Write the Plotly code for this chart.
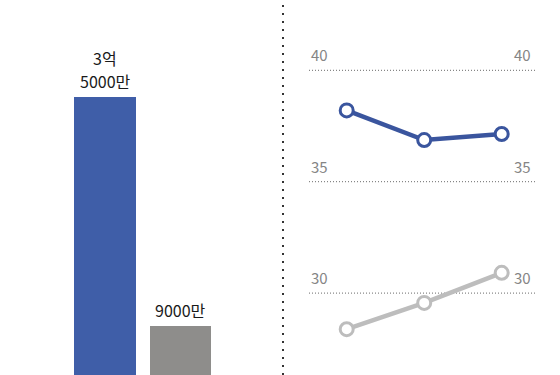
import plotly.graph_objects as go

# Data
bar_categories = [0, 1]
bar_values = [35000, 9000]          # 단위: 만원
bar_labels = [["3억", "5000만"], ["9000만"]]
bar_colors = ["#3f5ea8", "#8e8d8b"]

line_x = [1, 2, 3]
blue_values = [38.2, 36.87, 37.14]
gray_values = [28.38, 29.56, 30.91]
grid_values = [40, 35, 30]
grid_labels = ["40", "35", "30"]

W, H = 560, 375

fig = go.Figure()

# Bars (left panel)
fig.add_trace(go.Bar(
    x=bar_categories, y=bar_values,
    marker=dict(color=bar_colors, line=dict(width=0)),
    width=0.82,
    xaxis="x", yaxis="y", hoverinfo="skip",
))

# Lines (right panel)
fig.add_trace(go.Scatter(
    x=line_x, y=blue_values, mode="lines+markers",
    line=dict(color="#3a559e", width=4.5),
    marker=dict(size=13, color="white", line=dict(color="#3a559e", width=3)),
    xaxis="x2", yaxis="y2", hoverinfo="skip",
))
fig.add_trace(go.Scatter(
    x=line_x, y=gray_values, mode="lines+markers",
    line=dict(color="#bdbdbd", width=4.5),
    marker=dict(size=13, color="white", line=dict(color="#bdbdbd", width=3)),
    xaxis="x2", yaxis="y2", hoverinfo="skip",
))

shapes = []
annotations = []

# bar value labels, one annotation per line, stacked above each bar
for xc, val, lines in zip(bar_categories, bar_values, bar_labels):
    n = len(lines)
    for i, ln in enumerate(lines):
        annotations.append(dict(xref="x", yref="y", x=xc, y=val, text=ln,
                                showarrow=False, xanchor="center", yanchor="bottom",
                                borderpad=0,
                                yshift=3 + (n - 1 - i) * 23,
                                font=dict(family="Noto Sans CJK KR", size=16, color="#1a1a1a")))

for v, lab in zip(grid_values, grid_labels):
    shapes.append(dict(type="line", xref="paper", yref="y2",
                       x0=309 / W, x1=536 / W, y0=v, y1=v,
                       line=dict(color="#6a6a6a", width=1, dash="1px,2px"),
                       layer="below"))
    for xp, anchor in ((309 / W, "left"), (533 / W, "right")):
        annotations.append(dict(xref="paper", yref="y2", x=xp, y=v,
                                text=lab, showarrow=False, xanchor=anchor, yanchor="bottom",
                                yshift=3,
                                font=dict(family="Noto Sans CJK KR", size=15, color="#858585")))

# vertical dotted divider
shapes.append(dict(type="line", xref="paper", yref="paper",
                   x0=283 / W, x1=283 / W, y0=0, y1=1,
                   line=dict(color="#333333", width=2, dash="2px,6px")))

# bar axis scale: x=0 at 105px, x=1 at 180.5px
px_bar = 75.5
bx0 = 105
# line axis scale: x=1 at 346.7px, x=3 at 501.7px
px_line = 77.5
lx1 = 346.7
# y for bars: baseline at ~405px, 35000 at 97px
bpx = (405 - 97) / 35000
# y for lines: 40 at 70.3px, 35 at 181.7px
lpx = (181.7 - 70.3) / 5

fig.update_layout(
    width=W, height=H,
    margin=dict(l=0, r=0, t=0, b=0),
    paper_bgcolor="white", plot_bgcolor="white",
    showlegend=False,
    bargap=0,
    xaxis=dict(domain=[0, 1], range=[-bx0 / px_bar, (W - bx0) / px_bar],
               visible=False, fixedrange=True),
    yaxis=dict(domain=[0, 1], range=[(405 - H) / bpx, 405 / bpx],
               visible=False, fixedrange=True),
    xaxis2=dict(domain=[0, 1], overlaying="x", anchor="y2",
                range=[1 - lx1 / px_line, 1 + (W - lx1) / px_line],
                visible=False, fixedrange=True),
    yaxis2=dict(domain=[0, 1], overlaying="y", anchor="x2",
                range=[40 - (H - 70.3) / lpx, 40 + 70.3 / lpx],
                visible=False, fixedrange=True),
    shapes=shapes,
    annotations=annotations,
)

fig.write_html(
    "out.html",
    config={"displayModeBar": False},
    post_script="document.body.style.margin='0';document.body.style.overflow='hidden';",
)
